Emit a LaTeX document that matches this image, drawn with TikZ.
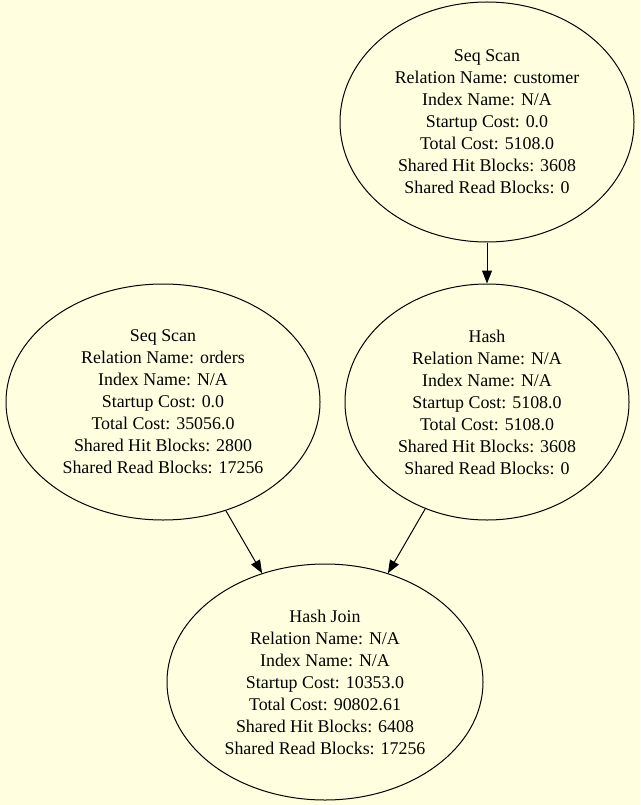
\documentclass[tikz,border=0pt]{standalone}
\usepackage{fontspec}
\setmainfont{Liberation Serif}
\usetikzlibrary{shapes.geometric,arrows.meta}
\definecolor{bgyellow}{HTML}{FFFFE0}
\begin{document}
\begin{tikzpicture}[x=1pt,y=-1pt,
  plannode/.style={draw=black,line width=1pt,ellipse,inner sep=0pt,align=center,
    font=\fontsize{17.9}{22}\selectfont},
  edge/.style={draw=black,line width=1pt,-{Triangle[length=13pt,width=10pt]}}]
\fill[bgyellow] (0,0) rectangle (640,805);
\useasboundingbox (0,0) rectangle (640,805);
\node[plannode,minimum width=294pt,minimum height=240pt] (scust) at (487,122) {Seq Scan\\Relation Name: customer\\Index Name: N/A\\Startup Cost: 0.0\\Total Cost: 5108.0\\Shared Hit Blocks: 3608\\Shared Read Blocks: 0};
\node[plannode,minimum width=314pt,minimum height=236pt] (sord) at (163,402) {Seq Scan\\Relation Name: orders\\Index Name: N/A\\Startup Cost: 0.0\\Total Cost: 35056.0\\Shared Hit Blocks: 2800\\Shared Read Blocks: 17256};
\node[plannode,minimum width=284pt,minimum height=236pt] (hash) at (487,402) {Hash\\Relation Name: N/A\\Index Name: N/A\\Startup Cost: 5108.0\\Total Cost: 5108.0\\Shared Hit Blocks: 3608\\Shared Read Blocks: 0};
\node[plannode,minimum width=316pt,minimum height=236pt] (hjoin) at (325,682) {Hash Join\\Relation Name: N/A\\Index Name: N/A\\Startup Cost: 10353.0\\Total Cost: 90802.61\\Shared Hit Blocks: 6408\\Shared Read Blocks: 17256};
\draw[edge] (scust) -- (hash);
\draw[edge] (sord) -- (hjoin);
\draw[edge] (hash) -- (hjoin);
\end{tikzpicture}
\end{document}
